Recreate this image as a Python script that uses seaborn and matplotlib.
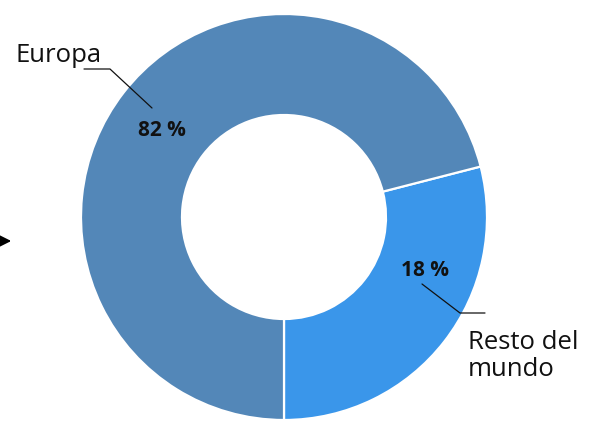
import matplotlib
matplotlib.use('Agg')
import matplotlib.pyplot as plt
import seaborn as sns

# slice sizes as drawn (angle), printed labels as written
regions = ['Resto del\nmundo', 'Europa']
shares = [29, 71]
share_labels = ['18 %', '82 %']
colors = ['#3a96ea', '#5387b8']

W, H = 595, 421

sns.set_style('white')
plt.rcParams['font.family'] = ['Open Sans', 'DejaVu Sans']

fig = plt.figure(figsize=(W / 100, H / 100), dpi=100)
ax = fig.add_axes([0, 0, 1, 1])

cx, cy, r = 284, H - 217, 203
ax.pie(shares, colors=colors, startangle=-90, counterclock=True,
       center=(cx, cy), radius=r, frame=True,
       wedgeprops=dict(width=101, edgecolor='white', linewidth=1.6))
ax.set_xlim(0, W)
ax.set_ylim(0, H)
ax.set_aspect('equal')
ax.axis('off')

def py(y):
    return H - y

# Europa label + leader
ax.text(15, py(55), regions[1], fontsize=18.5, ha='left', va='center', color='#111111')
ax.plot([84, 110, 152], [py(69), py(69), py(108)], color='#111111', lw=0.9)
ax.text(162, py(131), share_labels[1], fontsize=15, fontweight='bold',
        ha='center', va='center', color='#111111')

# Resto del mundo label + leader
ax.text(425, py(270), share_labels[0], fontsize=15, fontweight='bold',
        ha='center', va='center', color='#111111')
ax.plot([422, 460, 485], [py(284), py(313), py(313)], color='#111111', lw=0.9)
ax.text(468, py(356), regions[0], fontsize=18.5, ha='left', va='center',
        color='#111111', linespacing=1.15)

# stray arrow at the left edge
ax.annotate('', xy=(14, py(241)), xytext=(-4, py(241)), annotation_clip=False,
            arrowprops=dict(arrowstyle='-|>', color='black', lw=1.4, mutation_scale=24))

fig.savefig('out.png', dpi=100)
